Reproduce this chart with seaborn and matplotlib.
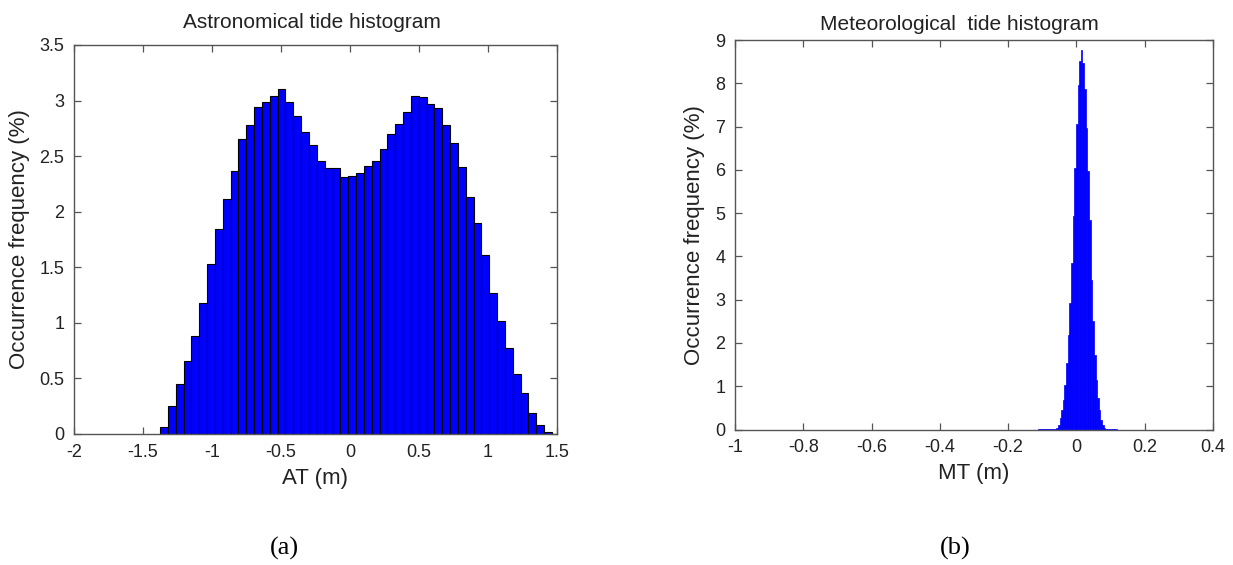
import numpy as np
import pandas as pd
import matplotlib
matplotlib.use("Agg")
import matplotlib.pyplot as plt
import seaborn as sns

# Astronomical tide (AT) histogram: 50 equal bins, occurrence frequency in %
at_bin_start = -1.376
at_bin_width = 0.0568
at_freq = [0.06, 0.25, 0.45, 0.66, 0.88, 1.18, 1.53, 1.84, 2.11, 2.37,
           2.65, 2.78, 2.94, 2.99, 3.04, 3.10, 2.99, 2.86, 2.72, 2.60,
           2.46, 2.39, 2.39, 2.31, 2.32, 2.35, 2.41, 2.46, 2.56, 2.70,
           2.79, 2.90, 3.04, 3.03, 2.97, 2.93, 2.78, 2.62, 2.40, 2.13,
           1.90, 1.61, 1.27, 1.02, 0.77, 0.54, 0.37, 0.19, 0.08, 0.02]

# Meteorological tide (MT) histogram: narrow bins around the peak, in %
mt_bin_start = -0.112
mt_bin_width = 0.0048
mt_freq = [0.002, 0.003, 0.003, 0.004, 0.005, 0.006, 0.008, 0.010, 0.012, 0.015,
           0.02, 0.04, 0.10, 0.27, 0.45, 0.68, 1.03, 1.54, 2.19, 2.93,
           3.85, 4.93, 6.05, 7.05, 7.97, 8.51, 8.78, 8.48, 7.86, 6.97,
           5.97, 4.85, 3.46, 2.50, 1.72, 1.15, 0.73, 0.45, 0.22, 0.10,
           0.04, 0.02, 0.012, 0.008, 0.006, 0.004, 0.003, 0.002]

at_xticks = [-2, -1.5, -1, -0.5, 0, 0.5, 1, 1.5]
at_xticklabels = ["-2", "-1.5", "-1", "-0.5", "0", "0.5", "1", "1.5"]
at_yticks = [0, 0.5, 1, 1.5, 2, 2.5, 3, 3.5]
at_yticklabels = ["0", "0.5", "1", "1.5", "2", "2.5", "3", "3.5"]

mt_xticks = [-1, -0.8, -0.6, -0.4, -0.2, 0, 0.2, 0.4]
mt_xticklabels = ["-1", "-0.8", "-0.6", "-0.4", "-0.2", "0", "0.2", "0.4"]
mt_yticks = [0, 1, 2, 3, 4, 5, 6, 7, 8, 9]
mt_yticklabels = [str(v) for v in mt_yticks]

sns.set_theme(style="white")
plt.rcParams["font.family"] = ["Liberation Sans", "DejaVu Sans"]

TEXT = "#222222"
AXIS = "#555555"

fig = plt.figure(figsize=(12.33, 5.65), dpi=100)
fig.patch.set_facecolor("white")
ax1 = fig.add_axes([0.0600, 0.2319, 0.3917, 0.6885])
ax2 = fig.add_axes([0.5961, 0.2398, 0.3877, 0.6894])


def hist_from_table(ax, start, width, freq, edgecolor, lw):
    n = len(freq)
    edges = start + width * np.arange(n + 1)
    table = pd.DataFrame({
        "value": 0.5 * (edges[:-1] + edges[1:]),
        "freq": np.asarray(freq, dtype=float),
    })
    sns.histplot(data=table, x="value", weights="freq", bins=edges.tolist(),
                 ax=ax, stat="count", color="#0000ff", edgecolor=edgecolor,
                 linewidth=lw, alpha=1.0)


hist_from_table(ax1, at_bin_start, at_bin_width, at_freq, "black", 0.8)
hist_from_table(ax2, mt_bin_start, mt_bin_width, mt_freq, "#0000ff", 0.5)


def style_axes(ax, xlim, ylim, xt, xtl, yt, ytl, xlabel):
    ax.set_xlim(*xlim)
    ax.set_ylim(*ylim)
    ax.set_xticks(xt)
    ax.set_xticklabels(xtl)
    ax.set_yticks(yt)
    ax.set_yticklabels(ytl)
    ax.tick_params(direction="in", length=5, width=0.9, color=AXIS,
                   labelsize=13, labelcolor=TEXT, top=True, right=True,
                   bottom=True, left=True, pad=7)
    for s in ax.spines.values():
        s.set_visible(True)
        s.set_color(AXIS)
        s.set_linewidth(1.0)
    ax.set_xlabel(xlabel, fontsize=16, color=TEXT, labelpad=5)
    ax.set_ylabel("Occurrence frequency (%)", fontsize=16, color=TEXT,
                  labelpad=7)
    ax.grid(False)
    ax.set_facecolor("white")


style_axes(ax1, (-2, 1.5), (0, 3.5), at_xticks, at_xticklabels,
           at_yticks, at_yticklabels, "AT (m)")
style_axes(ax2, (-1, 0.4), (0, 9), mt_xticks, mt_xticklabels,
           mt_yticks, mt_yticklabels, "MT (m)")

# Panel titles
fig.text(311.5 / 1233, 1 - 22 / 565, "Astronomical tide histogram",
         fontsize=15, color=TEXT, ha="center", va="center")
fig.text(959.5 / 1233, 1 - 25 / 565, "Meteorological  tide histogram",
         fontsize=15, color=TEXT, ha="center", va="center")

fig.text(0.231, 0.030, "(a)", fontsize=19, family="Liberation Serif",
         ha="center", va="center", color="black")
fig.text(0.7745, 0.030, "(b)", fontsize=19, family="Liberation Serif",
         ha="center", va="center", color="black")

fig.savefig("out.png", dpi=100, facecolor="white")
